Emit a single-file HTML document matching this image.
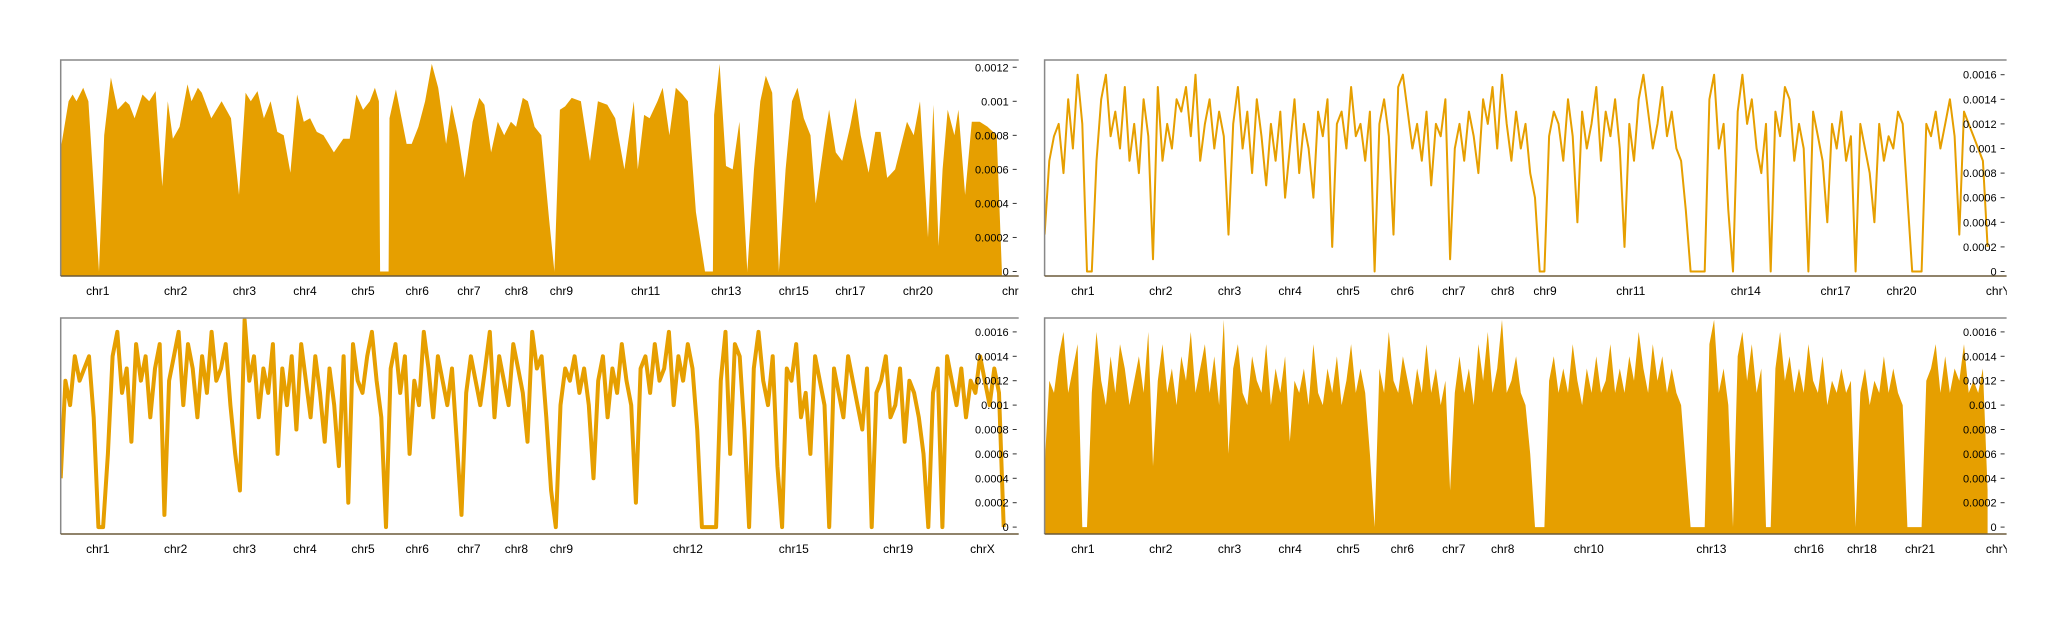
<!DOCTYPE html>
<html><head><meta charset="utf-8"><style>
html,body{margin:0;padding:0;background:#fff;}
svg{display:block;font-family:"Liberation Sans",sans-serif;}
</style></head><body>
<svg id="chart" width="2060" height="622" viewBox="0 0 2060 622" xmlns="http://www.w3.org/2000/svg"></svg>
<script>
// Top-left: genomic position (Mb) and value (x1e-4)
const tlPos = [0,26,39,52,74,91,126,143,165,187,213,226,243,269,291,312,334,352,369,391,417,430,451,464,495,529,560,586,608,625,647,668,690,712,733,755,777,799,820,842,864,898,929,950,972,994,1016,1033,1046,1050,1078,1081,1102,1137,1154,1176,1198,1220,1241,1267,1285,1306,1328,1354,1376,1393,1415,1437,1458,1480,1497,1519,1536,1558,1580,1606,1623,1641,1658,1680,1710,1740,1766,1797,1823,1853,1884,1897,1918,1936,1962,1979,2001,2022,2044,2062,2088,2118,2144,2148,2166,2187,2209,2231,2257,2279,2300,2318,2339,2361,2383,2404,2422,2443,2465,2482,2513,2526,2548,2569,2595,2613,2630,2656,2678,2695,2717,2743,2782,2804,2825,2851,2869,2886,2899,2916,2938,2951,2973,2995,3021,3047,3077,3094];
const tlVal = [7.2,10,10.4,10,10.8,10,0,8,11.4,9.5,10,9.8,9,10.4,10,10.6,5,10,7.8,8.5,11,10,10.8,10.5,9,10,9,4.5,10.5,10,10.6,9,10,8.2,8,5.8,10.4,8.8,9,8.2,8,7,7.8,7.8,10.4,9.5,10,10.8,10,0,0,9,10.7,7.5,7.5,8.5,10,12.2,10.8,7.5,9.8,8,5.5,8.8,10.2,9.8,7,8.8,8,8.8,8.5,10.2,10,8.5,8,3,0,9.5,9.7,10.2,10,6.5,10,9.8,9,6,10,6,9.2,9,10,10.8,8,10.8,10.4,10,3.5,0,0,9.2,12.2,6.2,6,8.8,0,6,10,11.5,10.5,0,6,10,10.8,9,8,4,8,9.5,7,6.5,8.5,10.2,8,5.8,8.2,8.2,5.5,6,8.8,8,10,2,9.8,1.5,6,9.5,8,9.5,4.5,8.8,8.8,8.5,8,0];
// Dense panels: 201 bins of 15.5 Mb, values x1e-4
const trVal = [3,9,11,12,8,14,10,16,12,0, 0,9,14,16,11,13,10,15,9,12, 8,14,11,1,15,9,12,10,14,13, 15,11,16,9,12,14,10,13,11,3, 12,15,10,13,8,14,11,7,12,9, 13,6,10,14,8,12,10,6,13,11, 14,2,12,13,10,15,11,12,9,13, 0,12,14,11,3,15,16,13,10,12, 9,13,7,12,11,14,1,10,12,9, 13,11,8,14,12,15,10,16,12,9, 13,10,12,8,6,0,0,11,13,12, 9,14,11,4,13,10,12,15,9,13, 11,14,10,2,12,9,14,16,13,10, 12,15,11,13,10,9,5,0,0,0, 0,14,16,10,12,5,0,13,16,12, 14,10,8,12,0,13,11,15,14,9, 12,10,0,13,11,9,4,12,10,13, 9,11,0,12,10,8,4,12,9,11, 10,13,12,6,0,0,0,12,11,13, 10,12,14,11,3,13,12,11,10,9, 2];
const blVal = [4,12,10,14,12,13,14,9,0,0, 6,14,16,11,13,7,15,12,14,9, 13,15,1,12,14,16,10,15,13,9, 14,11,16,12,13,15,10,6,3,17, 12,14,9,13,11,15,6,13,10,14, 8,15,12,9,14,11,7,13,10,5, 14,2,15,12,11,14,16,12,9,0, 13,15,11,14,6,12,10,16,13,9, 14,12,10,13,7,1,11,14,12,10, 13,16,9,14,12,10,15,13,11,7, 16,13,14,9,3,0,10,13,12,14, 11,13,10,4,12,14,9,13,11,15, 12,10,2,13,14,11,15,12,13,16, 10,14,12,15,13,8,0,0,0,0, 12,16,6,15,14,8,0,13,16,12, 10,14,5,0,13,12,15,9,11,6, 14,12,10,0,13,11,9,14,12,10, 8,13,0,11,12,14,9,10,13,7, 12,11,9,6,0,11,13,0,14,12, 10,13,9,12,11,14,12,10,13,11, 0];
const brVal = [5,12,11,14,16,11,13,15,0,0, 11,16,12,10,14,11,15,13,10,12, 14,11,16,5,12,15,11,13,10,14, 12,16,11,13,15,11,14,10,17,6, 13,15,11,10,14,12,11,15,10,13, 11,14,7,12,11,13,10,15,11,10, 13,11,14,10,12,15,11,13,11,6, 0,13,11,16,12,11,14,12,10,13, 11,15,11,13,10,12,3,11,14,11, 13,10,15,12,16,11,13,17,11,12, 14,11,10,6,0,0,0,12,14,11, 13,11,15,12,10,13,11,14,11,12, 15,11,13,11,14,12,16,13,11,15, 12,14,11,13,11,10,5,0,0,0, 0,15,17,11,13,10,0,14,16,12, 15,11,13,0,0,13,16,12,14,11, 13,11,15,12,11,14,10,12,11,13, 11,12,0,11,13,10,12,11,14,11, 13,11,10,0,0,0,0,12,13,15, 11,14,11,13,12,15,11,12,11,13, 3];
// Chromosome tick labels and positions (Mb)
const tlChr = ["chr1","chr2","chr3","chr4","chr5","chr6","chr7","chr8","chr9","chr11","chr13","chr15","chr17","chr20","chrY"];
const tlChrPos = [122,378,604,803,994,1172,1342,1498,1646,1923,2188,2410,2596,2818,3135];
const trChr = ["chr1","chr2","chr3","chr4","chr5","chr6","chr7","chr8","chr9","chr11","chr14","chr17","chr20","chrY"];
const trChrPos = [126,382,608,807,998,1176,1345,1506,1645,1927,2305,2600,2817,3135];
const blChr = ["chr1","chr2","chr3","chr4","chr5","chr6","chr7","chr8","chr9","chr12","chr15","chr19","chrX"];
const blChrPos = [122,378,604,803,994,1172,1342,1498,1646,2062,2410,2753,3030];
const brChr = ["chr1","chr2","chr3","chr4","chr5","chr6","chr7","chr8","chr10","chr13","chr16","chr18","chr21","chrY"];
const brChrPos = [126,382,608,807,998,1176,1345,1506,1789,2192,2513,2687,2878,3135];
const ticks12 = ["0","0.0002","0.0004","0.0006","0.0008","0.001","0.0012"];
const ticks16 = ["0","0.0002","0.0004","0.0006","0.0008","0.001","0.0012","0.0014","0.0016"];

const NS="http://www.w3.org/2000/svg";
const svg=document.getElementById('chart');
function mk(tag,parent){const e=document.createElementNS(NS,tag);parent.appendChild(e);return e;}
const binPos = trVal.map((_,i)=>i*15.5);

function panel(name,px,py,pw,ph,y0,pxPer,pos,vals,mode,lw,chrs,chrPos,ticks,labelY){
  const g=mk('g',svg);
  
  
  const cid='clip-'+name;
  const cp=mk('clipPath',g);cp.setAttribute('id',cid);
  const cr=mk('rect',cp);cr.setAttribute('x',px);cr.setAttribute('y',py);cr.setAttribute('width',pw);cr.setAttribute('height',ph);
  const cid2='clipx-'+name;
  const cp2=mk('clipPath',g);cp2.setAttribute('id',cid2);
  const cr2=mk('rect',cp2);cr2.setAttribute('x',px-40);cr2.setAttribute('y',py);cr2.setAttribute('width',pw+40);cr2.setAttribute('height',ph+40);
  const xs=m=>px+m/3100*943;
  const ys=v=>y0-v*pxPer;
  const pts=pos.map((m,i)=>xs(m).toFixed(1)+','+ys(vals[i]).toFixed(1));
  const p=mk('path',g);
  
  
  p.setAttribute('clip-path','url(#'+cid+')');
  if(mode==='area'){
    p.setAttribute('d','M'+xs(pos[0]).toFixed(1)+','+(py+ph)+' L'+pts.join(' L')+' L'+xs(pos[pos.length-1]).toFixed(1)+','+(py+ph)+' Z');
    p.setAttribute('fill','#E69F00');
  } else {
    p.setAttribute('d','M'+pts.join(' L'));
    p.setAttribute('fill','none');p.setAttribute('stroke','#E69F00');p.setAttribute('stroke-width',lw);p.setAttribute('stroke-linejoin','round');
  }
  const fr=mk('path',g);
  
  
  fr.setAttribute('d','M'+px+','+(py+ph)+' L'+px+','+py+' L'+(px+pw)+','+py);
  fr.setAttribute('fill','none');fr.setAttribute('stroke','#888');fr.setAttribute('stroke-width','1.5');
  const ax=mk('line',g);
  
  
  ax.setAttribute('x1',px);ax.setAttribute('x2',px+pw);ax.setAttribute('y1',py+ph);ax.setAttribute('y2',py+ph);
  ax.setAttribute('stroke','#6b5a3a');ax.setAttribute('stroke-width','1.5');
  ticks.forEach((t,i)=>{
    const y=ys(i*2);
    const tk=mk('line',g);
    
    
    tk.setAttribute('x1',px+pw-6);tk.setAttribute('x2',px+pw-2);tk.setAttribute('y1',y);tk.setAttribute('y2',y);
    tk.setAttribute('stroke','#333');tk.setAttribute('stroke-width','1');
    const tx=mk('text',g);
    
    
    tx.setAttribute('x',px+pw-10);tx.setAttribute('y',y+4);tx.setAttribute('text-anchor','end');
    tx.setAttribute('font-size','11');tx.setAttribute('fill','#000');
    tx.textContent=t;
  });
  chrs.forEach((c,i)=>{
    const tx=mk('text',g);
    
    
    tx.setAttribute('clip-path','url(#'+cid2+')');
    tx.setAttribute('x',xs(chrPos[i]));tx.setAttribute('y',labelY);tx.setAttribute('text-anchor','middle');
    tx.setAttribute('font-size','12');tx.setAttribute('fill','#000');
    tx.textContent=c;
  });
}
panel('panel-top-left',60.7,60,958,216,271.5,17.02,tlPos,tlVal,'area',0,tlChr,tlChrPos,ticks12,295);
panel('panel-top-right',1044.6,60,962,216,271.5,12.3,binPos,trVal,'line',2,trChr,trChrPos,ticks16,295);
panel('panel-bottom-left',60.7,318,958,216,527.1,12.2,binPos,blVal,'line',4,blChr,blChrPos,ticks16,553);
panel('panel-bottom-right',1044.6,318,962,216,527.1,12.2,binPos,brVal,'area',0,brChr,brChrPos,ticks16,553);
</script>
</body></html>
